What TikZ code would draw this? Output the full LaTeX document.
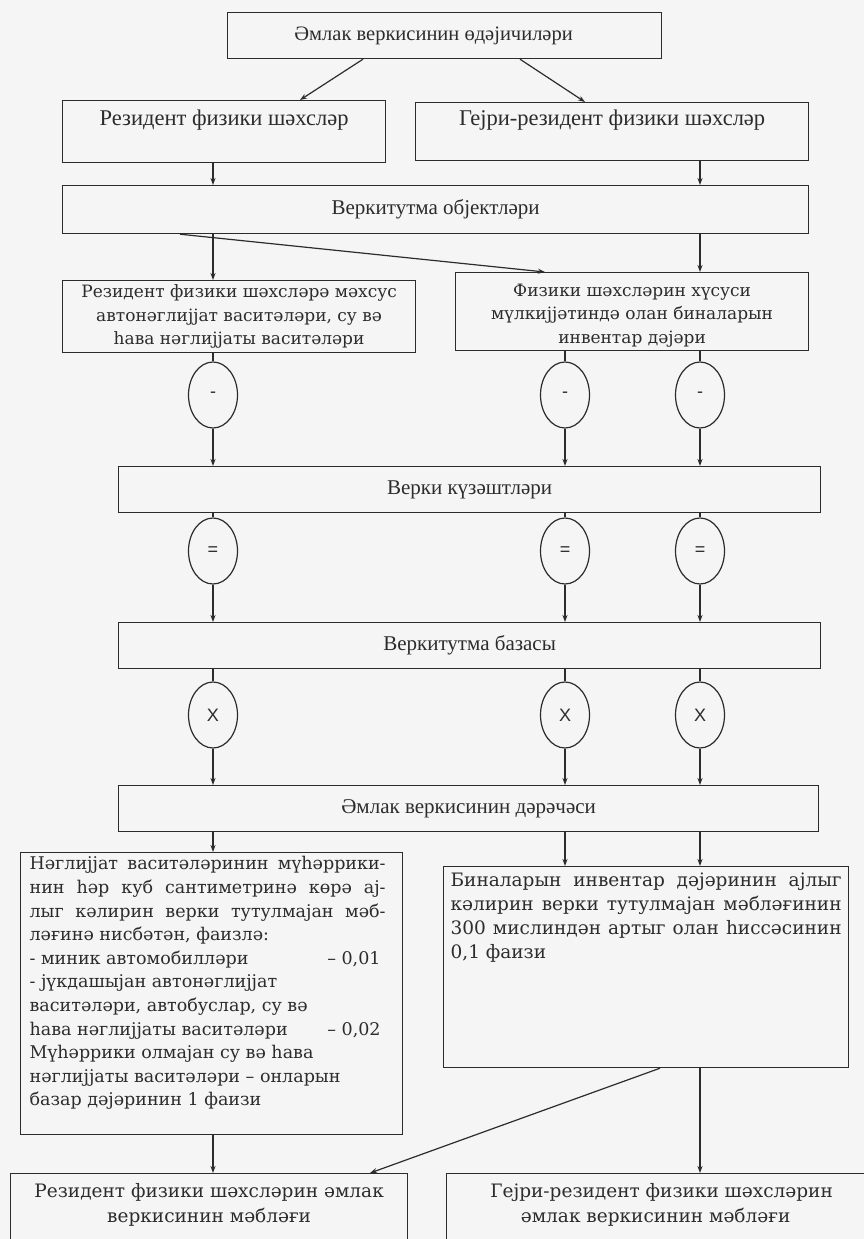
\documentclass[tikz,border=0pt]{standalone}
\usepackage{fontspec}
\setmainfont{Liberation Serif}
\newfontfamily\widefont{DejaVu Serif}
\newfontfamily\xsans{Liberation Sans}
\usetikzlibrary{shapes.geometric,arrows.meta}
\definecolor{ink}{HTML}{2C2C2C}
\definecolor{paper}{HTML}{F5F5F5}
\begin{document}
\begin{tikzpicture}[x=1pt,y=-1pt,
  box/.style={draw=ink,line width=1.2pt,inner sep=0pt,anchor=north west,text=ink},
  oval/.style={draw=ink,line width=1.2pt,ellipse,minimum width=49pt,minimum height=66pt,inner sep=0pt,text=ink,font=\xsans\fontsize{18}{18}\selectfont},
  arr/.style={draw=ink,line width=1.2pt,-{Stealth[length=7pt,width=5pt]}},
  ln/.style={draw=ink,line width=1.2pt},
  tn/.style={font=\fontsize{21}{24}\selectfont},
  tw/.style={font=\widefont\fontsize{17}{23.5}\selectfont}
]
\fill[paper] (0,0) rectangle (864,1239);
\useasboundingbox (0,0) rectangle (864,1239);
\clip (0,0) rectangle (864,1239);

% column coordinates
\coordinate (cL) at (213,0);
\coordinate (cM) at (565,0);
\coordinate (cR) at (700,0);
\coordinate (t1) at (363,0);
\coordinate (t2) at (520,0);
\coordinate (t3) at (300,0);
\coordinate (t4) at (585,0);
\coordinate (o1) at (180,0);
\coordinate (o2) at (545,0);
\coordinate (d1) at (660,0);
\coordinate (d2) at (370,0);

% boxes
\node[box,minimum width=434pt,minimum height=46pt] (top) at (227,12)
  {\parbox[c][46pt][c]{434pt}{\centering\fontsize{20.5}{22}\selectfont Әмлак веркисинин өдәјичиләри\hspace*{22pt}}};
\node[box,minimum width=323pt,minimum height=62pt] (res) at (62,100)
  {\parbox[c][62pt][t]{323pt}{\centering\fontsize{22.5}{25}\selectfont\vspace{9pt}Резидент физики шәхсләр}};
\node[box,minimum width=393pt,minimum height=58pt] (gej) at (415,102)
  {\parbox[c][58pt][t]{393pt}{\centering\fontsize{22.5}{25}\selectfont\vspace{7pt}Гејри-резидент физики шәхсләр}};
\node[box,tn,minimum width=746pt,minimum height=48pt] (obj) at (62,185)
  {\parbox[c][48pt][c]{746pt}{\centering Веркитутма објектләри}};
\node[box,tw,minimum width=353pt,minimum height=72pt] (vas) at (62,280)
  {\parbox[c][72pt][c]{353pt}{\centering Резидент физики шәхсләрә мәхсус\\автонәглијјат васитәләри, су вә\\һава нәглијјаты васитәләри}};
\node[box,tw,minimum width=353pt,minimum height=78pt] (bin) at (455,272)
  {\parbox[c][78pt][c]{353pt}{\centering\vspace{8pt}Физики шәхсләрин хүсуси\\мүлкијјәтиндә олан биналарын\\инвентар дәјәри}};

\node[oval] (m1) at (213,395) {-};
\node[oval] (m2) at (565,395) {-};
\node[oval] (m3) at (700,395) {-};

\node[box,tn,minimum width=702pt,minimum height=46pt] (kuz) at (118,466)
  {\parbox[c][46pt][c]{702pt}{\centering Верки күзәштләри}};

\node[oval] (e1) at (213,551) {=};
\node[oval] (e2) at (565,551) {=};
\node[oval] (e3) at (700,551) {=};

\node[box,tn,minimum width=702pt,minimum height=46pt] (baz) at (118,622)
  {\parbox[c][46pt][c]{702pt}{\centering Веркитутма базасы}};

\node[oval] (x1) at (213,715) {X};
\node[oval] (x2) at (565,715) {X};
\node[oval] (x3) at (700,715) {X};

\node[box,tn,minimum width=700pt,minimum height=46pt] (der) at (118,785)
  {\parbox[c][46pt][c]{700pt}{\centering Әмлак веркисинин дәрәчәси}};

\node[box,minimum width=382pt,minimum height=282pt] (nag) at (20,852)
  {\parbox[c][282pt][t]{382pt}{\widefont\fontsize{17.5}{23.6}\selectfont\vspace{4pt}\hspace*{9pt}\parbox[t]{356pt}{%
  \makebox[\linewidth][s]{Нәглијјат васитәләринин мүһәррики-}\\
  \makebox[\linewidth][s]{нин һәр куб сантиметринә көрә ај-}\\
  \makebox[\linewidth][s]{лыг кәлирин верки тутулмајан мәб-}\\
  ләғинә нисбәтән, фаизлә:\\
  - миник автомобилләри\hfill – 0,01\hspace*{5pt}\\
  - јүкдашыјан автонәглијјат\\
  васитәләри, автобуслар, су вә\\
  һава нәглијјаты васитәләри\hfill – 0,02\hspace*{5pt}\\
  Мүһәррики олмајан су вә һава\\
  нәглијјаты васитәләри – онларын\\
  базар дәјәринин 1 фаизи}}};

\node[box,minimum width=405pt,minimum height=201pt] (inv) at (443,866)
  {\parbox[c][201pt][t]{405pt}{\widefont\fontsize{18.5}{24}\selectfont\vspace{6pt}\hspace*{7pt}\parbox[t]{391pt}{%
  \makebox[\linewidth][s]{Биналарын инвентар дәјәринин ајлыг}\\
  \makebox[\linewidth][s]{кәлирин верки тутулмајан мәбләғинин}\\
  \makebox[\linewidth][s]{300 мислиндән артыг олан һиссәсинин}\\
  0,1 фаизи}}};

\node[box,minimum width=397pt,minimum height=100pt] (sumR) at (10,1173)
  {\parbox[c][100pt][t]{397pt}{\centering\widefont\fontsize{18.5}{25}\selectfont\vspace{10pt}Резидент физики шәхсләрин әмлак\\веркисинин мәбләғи}};
\node[box,minimum width=430pt,minimum height=100pt] (sumG) at (446,1173)
  {\parbox[c][100pt][t]{430pt}{\centering\widefont\fontsize{18.5}{25}\selectfont\vspace{10pt}Гејри-резидент физики шәхсләрин\\әмлак веркисинин мәбләғи\hspace*{12pt}}};

% connectors
\draw[arr] (top.south -| t1) -- (res.north -| t3);
\draw[arr] (top.south -| t2) -- (gej.north -| t4);
\draw[arr] (res.south -| cL) -- (obj.north -| cL);
\draw[arr] (gej.south -| cR) -- (obj.north -| cR);
\draw[arr] (obj.south -| cL) -- (vas.north -| cL);
\draw[arr] (obj.south -| o1) -- (bin.north -| o2);
\draw[arr] (obj.south -| cR) -- (bin.north -| cR);

\draw[ln] (vas.south -| cL) -- (m1.north);
\draw[ln] (bin.south -| cM) -- (m2.north);
\draw[ln] (bin.south -| cR) -- (m3.north);
\draw[arr] (m1.south) -- (kuz.north -| cL);
\draw[arr] (m2.south) -- (kuz.north -| cM);
\draw[arr] (m3.south) -- (kuz.north -| cR);

\draw[ln] (kuz.south -| cL) -- (e1.north);
\draw[ln] (kuz.south -| cM) -- (e2.north);
\draw[ln] (kuz.south -| cR) -- (e3.north);
\draw[arr] (e1.south) -- (baz.north -| cL);
\draw[arr] (e2.south) -- (baz.north -| cM);
\draw[arr] (e3.south) -- (baz.north -| cR);

\draw[ln] (baz.south -| cL) -- (x1.north);
\draw[ln] (baz.south -| cM) -- (x2.north);
\draw[ln] (baz.south -| cR) -- (x3.north);
\draw[arr] (x1.south) -- (der.north -| cL);
\draw[arr] (x2.south) -- (der.north -| cM);
\draw[arr] (x3.south) -- (der.north -| cR);

\draw[arr] (der.south -| cL) -- (nag.north -| cL);
\draw[arr] (der.south -| cM) -- (inv.north -| cM);
\draw[arr] (der.south -| cR) -- (inv.north -| cR);

\draw[arr] (nag.south -| cL) -- (sumR.north -| cL);
\draw[arr] (inv.south -| d1) -- (sumR.north -| d2);
\draw[arr] (inv.south -| cR) -- (sumG.north -| cR);
\end{tikzpicture}
\end{document}
